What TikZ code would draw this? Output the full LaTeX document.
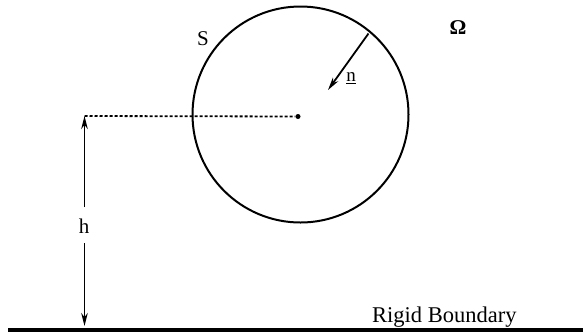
\documentclass[tikz,border=0pt]{standalone}
\usepackage{fontspec}
\setmainfont{Liberation Serif}
\usetikzlibrary{arrows.meta}
\begin{document}
\begin{tikzpicture}[x=1pt,y=-1pt,
  lbl/.style={inner sep=0pt},
  arr/.style={line width=1.8pt,-{Stealth[length=13pt,width=6.5pt]}}]
\useasboundingbox (0,0) rectangle (583,333);
\coordinate (c) at (300.5,114.5);
\node[circle,draw,line width=2pt,minimum size=216pt,inner sep=0pt] (circ) at (c) {};
\node[circle,fill,inner sep=0pt,minimum size=5pt] (dot) at (298,116.5) {};
\coordinate (corner) at (84.5,116);
\draw[line width=1.8pt,dash pattern=on 3pt off 2pt] (corner) -- (dot);
\coordinate (bot) at (84.5,326);
\node[lbl,font=\fontsize{21}{21}\selectfont] (h) at (84,226) {h};
\coordinate (htop) at (84.5,207);
\coordinate (hbot) at (84.5,243);
\draw[arr] (htop) -- (corner);
\draw[arr] (hbot) -- (bot);
\coordinate (ns) at (368.5,33.5);
\coordinate (nt) at (328,90);
\draw[arr] (ns) -- (nt);
\node[lbl,font=\fontsize{19}{19}\selectfont] (n) at (351,78) {\underline{n}};
\node[lbl,font=\fontsize{21}{21}\selectfont] (S) at (203,38.5) {S};
\node[lbl,font=\fontsize{21}{21}\selectfont\bfseries] (O) at (458,28) {Ω};
\coordinate (b1) at (8,330);
\coordinate (b2) at (583,330);
\draw[line width=3.5pt] (b1) -- (b2);
\node[lbl,anchor=base west,font=\fontsize{22.5}{22.5}\selectfont] (rb) at (372,322.5) {Rigid Boundary};
\end{tikzpicture}
\end{document}
